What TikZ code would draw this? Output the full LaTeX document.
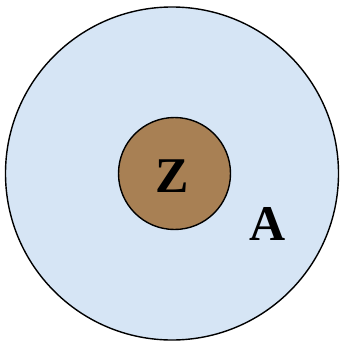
\documentclass[tikz,border=0pt]{standalone}
\usepackage{fontspec}
\setmainfont{Liberation Serif}
\definecolor{paleblue}{RGB}{214,229,245}
\definecolor{bronze}{RGB}{168,128,84}
\begin{document}
\begin{tikzpicture}[x=1pt,y=-1pt,
  disc/.style={circle, draw=black, line width=1.4pt, inner sep=0pt},
  lbl/.style={font=\fontsize{50}{50}\selectfont\bfseries, inner sep=0pt}]
\useasboundingbox (0,0) rectangle (343,345);
\node[disc, fill=paleblue, minimum size=333pt] (outer) at (172,173.5) {};
\node[disc, fill=bronze, minimum size=112pt] (inner) at (174.5,173.5) {};
\node[lbl] (z) at (172,176) {Z};
\node[lbl] (a) at (268,224) {A};
\end{tikzpicture}
\end{document}
